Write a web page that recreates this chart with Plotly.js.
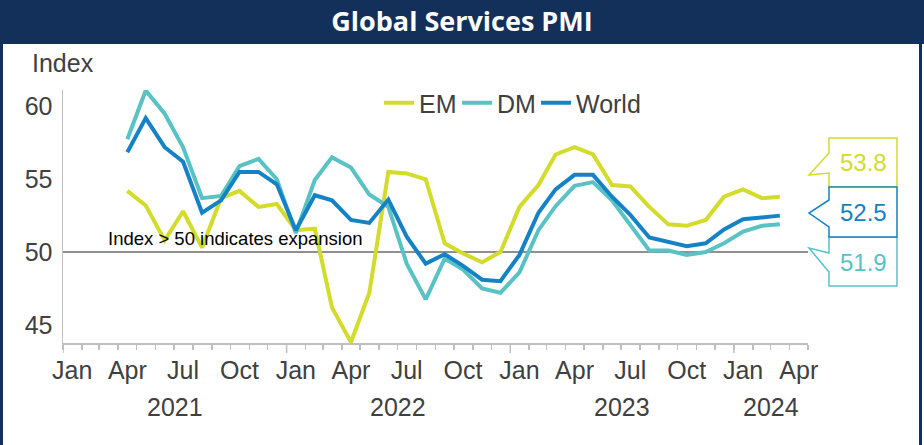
<!DOCTYPE html>
<html>
<head>
<meta charset="utf-8">
<script src="https://cdn.plot.ly/plotly-3.0.1.min.js"></script>
<style>
  html, body { margin: 0; padding: 0; background: #ffffff; }
  #chart { width: 924px; height: 445px; }
</style>
</head>
<body>
<div id="chart"></div>
<script>
// ---- data ----
const months = ['2021-04','2021-05','2021-06','2021-07','2021-08','2021-09','2021-10','2021-11','2021-12',
  '2022-01','2022-02','2022-03','2022-04','2022-05','2022-06','2022-07','2022-08','2022-09','2022-10','2022-11','2022-12',
  '2023-01','2023-02','2023-03','2023-04','2023-05','2023-06','2023-07','2023-08','2023-09','2023-10','2023-11','2023-12',
  '2024-01','2024-02','2024-03'];
const emValues = [54.2, 53.2, 50.8, 52.8, 50.3, 53.7, 54.2, 53.1, 53.3,
  51.5, 51.6, 46.2, 43.8, 47.2, 55.5, 55.4, 55.0, 50.6, 49.9, 49.3, 50.0,
  53.1, 54.6, 56.7, 57.2, 56.7, 54.6, 54.5, 53.1, 51.9, 51.8, 52.2, 53.8,
  54.3, 53.7, 53.8];
const dmValues = [57.75, 61.1, 59.5, 57.2, 53.7, 53.85, 55.9, 56.4, 55.0,
  51.3, 54.95, 56.5, 55.8, 53.95, 53.1, 49.2, 46.75, 49.55, 48.8, 47.5, 47.2,
  48.6, 51.5, 53.15, 54.55, 54.8, 53.55, 51.8, 50.1, 50.1, 49.8, 50.0, 50.6,
  51.4, 51.8, 51.9];
const worldValues = [56.85, 59.2, 57.2, 56.2, 52.7, 53.55, 55.5, 55.5, 54.65,
  51.5, 53.9, 53.55, 52.2, 52.0, 53.6, 51.05, 49.2, 49.85, 49.05, 48.1, 48.0,
  49.8, 52.7, 54.3, 55.3, 55.3, 53.8, 52.55, 51.0, 50.7, 50.4, 50.6, 51.55,
  52.25, 52.4, 52.5];
const seriesNames = ['EM', 'DM', 'World'];
const tickMonths = ['2021-01','2021-04','2021-07','2021-10','2022-01','2022-04','2022-07','2022-10',
  '2023-01','2023-04','2023-07','2023-10','2024-01','2024-04'];
const tickLabels = ['Jan','Apr','Jul','Oct','Jan','Apr','Jul','Oct','Jan','Apr','Jul','Oct','Jan','Apr'];
const yearLabels = ['2021','2022','2023','2024'];
const yearCenters = ['2021-07-02','2022-07-02','2023-07-02','2024-03-01'];
const yearStarts = ['2021-01-01','2022-01-01','2023-01-01','2024-01-01'];
const yTicks = [45, 50, 55, 60];

// ---- style ----
const C_EM = '#D3DB2B', C_DM = '#58C2C4', C_W = '#1482C4';
const NAVY = '#13305A', GREY_TXT = '#404040', AXIS = '#BFBFBF';
const FONT = 'Liberation Sans, Arial, sans-serif';

const L = 63, T = 90, PW = 745, PH = 253;
const fx = px => (px - L) / PW;
const fy = py => 1 - (py - T) / PH;
const path = pts => pts.map((p, i) => (i ? 'L' : 'M') + fx(p[0]).toFixed(5) + ',' + fy(p[1]).toFixed(5)).join(' ') + ' Z';

const xs = months.map(m => m + '-16');

const mk = (name, ys, color, legendId) => ({
  x: xs, y: ys, name: name, type: 'scatter', mode: 'lines', legend: legendId,
  line: { color: color, width: 4 }, hoverinfo: 'x+y+name'
});
const data = [
  mk(seriesNames[0], emValues, C_EM, 'legend'),
  mk(seriesNames[1], dmValues, C_DM, 'legend2'),
  mk(seriesNames[2], worldValues, C_W, 'legend3')
];

const shapes = [
  // header band
  { type: 'rect', xref: 'paper', yref: 'paper', x0: fx(0), x1: fx(924), y0: fy(44), y1: fy(0),
    fillcolor: NAVY, line: { width: 0 }, layer: 'below' },
  // frame sides
  { type: 'line', xref: 'paper', yref: 'paper', x0: fx(1.5), x1: fx(1.5), y0: fy(0), y1: fy(445),
    line: { color: NAVY, width: 3 } },
  { type: 'line', xref: 'paper', yref: 'paper', x0: fx(920.5), x1: fx(920.5), y0: fy(0), y1: fy(445),
    line: { color: NAVY, width: 3 } },
  // 50 reference line
  { type: 'line', xref: 'paper', yref: 'y', x0: 0, x1: 1, y0: 50, y1: 50,
    line: { color: '#8F8F8F', width: 2 }, layer: 'below' },
  // callouts
  { type: 'path', xref: 'paper', yref: 'paper', fillcolor: '#ffffff', line: { color: C_EM, width: 1.5 },
    path: path([[829,138],[897,138],[897,187],[829,187],[829,173],[809,175],[829,153]]) },
  { type: 'path', xref: 'paper', yref: 'paper', fillcolor: '#ffffff', line: { color: C_DM, width: 1.5 },
    path: path([[829,237],[897,237],[897,286],[829,286],[829,272],[809,248],[829,253]]) },
  { type: 'path', xref: 'paper', yref: 'paper', fillcolor: '#ffffff', line: { color: C_W, width: 1.5 },
    path: path([[829,187],[897,187],[897,237],[829,237],[829,227],[809,213],[829,200]]) }
];
// year boundary (long) ticks
yearStarts.forEach(d => shapes.push({
  type: 'line', xref: 'x', yref: 'paper', x0: d, x1: d, y0: 0, y1: -10 / PH,
  line: { color: AXIS, width: 1.5 }
}));

const annotations = [
  { text: 'Index', xref: 'paper', yref: 'paper', x: fx(30), y: fy(63), xanchor: 'left', yanchor: 'middle',
    showarrow: false, font: { family: FONT, size: 25, color: GREY_TXT } },
  { text: 'Index > 50 indicates expansion', xref: 'paper', yref: 'paper', x: fx(106), y: fy(238),
    xanchor: 'left', yanchor: 'middle', showarrow: false, font: { family: FONT, size: 18.5, color: '#000000' } },
  { text: emValues[emValues.length - 1].toFixed(1), xref: 'paper', yref: 'paper', x: fx(863), y: fy(162),
    xanchor: 'center', yanchor: 'middle', showarrow: false, font: { family: FONT, size: 24, color: C_EM } },
  { text: worldValues[worldValues.length - 1].toFixed(1), xref: 'paper', yref: 'paper', x: fx(863), y: fy(212),
    xanchor: 'center', yanchor: 'middle', showarrow: false, font: { family: FONT, size: 24, color: C_W } },
  { text: dmValues[dmValues.length - 1].toFixed(1), xref: 'paper', yref: 'paper', x: fx(863), y: fy(262),
    xanchor: 'center', yanchor: 'middle', showarrow: false, font: { family: FONT, size: 24, color: C_DM } }
];
yearLabels.forEach((t, i) => annotations.push({
  text: t, xref: 'x', yref: 'paper', x: yearCenters[i], y: fy(407), xanchor: 'center', yanchor: 'middle',
  showarrow: false, font: { family: FONT, size: 25, color: GREY_TXT }
}));

const legendBase = (px) => ({
  orientation: 'h', x: fx(px), y: fy(103), xanchor: 'left', yanchor: 'middle',
  bgcolor: 'rgba(0,0,0,0)', font: { family: FONT, size: 25, color: GREY_TXT }, itemwidth: 30
});

const layout = {
  width: 924, height: 445,
  margin: { l: L, r: 924 - L - PW, t: T, b: 445 - T - PH, pad: 0 },
  paper_bgcolor: '#ffffff', plot_bgcolor: '#ffffff',
  font: { family: FONT, color: GREY_TXT },
  title: { text: 'Global Services PMI', x: 0.5, xanchor: 'center', xref: 'container',
    y: 1 - 22 / 445, yref: 'container', yanchor: 'middle',
    font: { family: 'Open Sans, sans-serif', size: 27, weight: 700, color: '#ffffff' } },
  showlegend: true,
  legend: legendBase(379),
  legend2: legendBase(457),
  legend3: legendBase(536),
  xaxis: {
    type: 'date', range: ['2021-01-01', '2024-05-01'],
    tickmode: 'array', tickvals: tickMonths.map(m => m + '-16'), ticktext: tickLabels,
    ticks: '', showgrid: false, zeroline: false,
    showline: true, linecolor: AXIS, linewidth: 1.5,
    tickfont: { family: FONT, size: 25, color: GREY_TXT }, ticklabelstandoff: 4,
    minor: { ticks: 'outside', ticklen: 5, tickwidth: 1.5, tickcolor: AXIS, dtick: 'M1', tick0: '2021-01-01', showgrid: false },
    fixedrange: true
  },
  yaxis: {
    range: [43.75, 61.13], tickmode: 'array', tickvals: yTicks, ticks: '',
    showgrid: false, zeroline: false, showline: true, linecolor: AXIS, linewidth: 1.5,
    tickfont: { family: FONT, size: 25, color: GREY_TXT }, ticklabelstandoff: 4,
    fixedrange: true
  },
  shapes: shapes,
  annotations: annotations
};

Plotly.newPlot('chart', data, layout, { displayModeBar: false, staticPlot: true });
</script>
</body>
</html>
